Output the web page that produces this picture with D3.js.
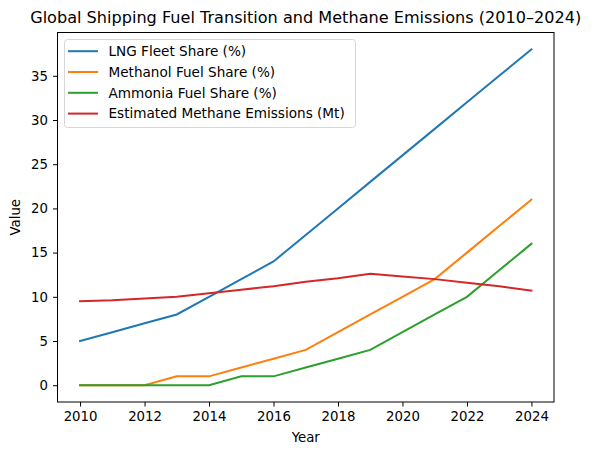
<!DOCTYPE html>
<html>
<head>
<meta charset="utf-8">
<script src="https://cdn.jsdelivr.net/npm/d3@7"></script>
<style>
    body { margin: 0; background: #fff; }
    text { font-family: "DejaVu Sans", sans-serif; }
</style>
</head>
<body>
<script>
const years = d3.range(2010, 2025);
const lngShare = [5, 6, 7, 8, 10, 12, 14, 17, 20, 23, 26, 29, 32, 35, 38];
const methanolShare = [0, 0, 0, 1, 1, 2, 3, 4, 6, 8, 10, 12, 15, 18, 21];
const ammoniaShare = [0, 0, 0, 0, 0, 1, 1, 2, 3, 4, 6, 8, 10, 13, 16];
const methaneEmissions = [9.5, 9.6, 9.8, 10.0, 10.4, 10.8, 11.2, 11.7, 12.1, 12.6, 12.3, 12.0, 11.6, 11.2, 10.7];
const seriesNames = ['LNG Fleet Share (%)', 'Methanol Fuel Share (%)', 'Ammonia Fuel Share (%)', 'Estimated Methane Emissions (Mt)'];
const seriesColors = ['#1f77b4', '#ff7f0e', '#2ca02c', '#d62728'];
const xTicks = [2010, 2012, 2014, 2016, 2018, 2020, 2022, 2024];
const yTicks = [0, 5, 10, 15, 20, 25, 30, 35];

const width = 599, height = 455;
const margin = {top: 32.5, right: 45, bottom: 53, left: 57.5};
const seriesValues = [lngShare, methanolShare, ammoniaShare, methaneEmissions];

const svg = d3.select('body').append('svg')
    .attr('width', width)
    .attr('height', height);

// matplotlib style 5% padding on both axes
const xPad = (2024 - 2010) * 0.05;
const allVals = seriesValues.flat();
const yMin = d3.min(allVals), yMax = d3.max(allVals);
const yPad = (yMax - yMin) * 0.05;

const x = d3.scaleLinear()
    .domain([2010 - xPad, 2024 + xPad])
    .range([margin.left, width - margin.right]);
const y = d3.scaleLinear()
    .domain([yMin - yPad, yMax + yPad])
    .range([height - margin.bottom, margin.top]);

const line = d3.line()
    .x((d, i) => x(years[i]))
    .y(d => y(d));

const plot = svg.append('g');
seriesValues.forEach((vals, k) => {
    plot.append('path')
        .datum(vals)
        .attr('d', line)
        .attr('fill', 'none')
        .attr('stroke', seriesColors[k])
        .attr('stroke-width', 2)
        .attr('stroke-linecap', 'square');
});

// axes
const xAxis = svg.append('g')
    .attr('transform', 'translate(0,' + (height - margin.bottom) + ')')
    .call(d3.axisBottom(x).tickValues(xTicks).tickFormat(d3.format('d')).tickSizeOuter(0).tickSize(4.5).tickPadding(5));
const yAxis = svg.append('g')
    .attr('transform', 'translate(' + margin.left + ',0)')
    .call(d3.axisLeft(y).tickValues(yTicks).tickSizeOuter(0).tickSize(4.5).tickPadding(5));
[xAxis, yAxis].forEach(a => {
    a.select('.domain').remove();
    a.selectAll('text').attr('font-size', 13.3).attr('fill', '#000').attr('font-family', '"DejaVu Sans", sans-serif');
    a.selectAll('line').attr('stroke', '#000').attr('stroke-width', 1);
});

// frame
svg.append('rect')
    .attr('x', margin.left)
    .attr('y', margin.top)
    .attr('width', width - margin.left - margin.right)
    .attr('height', height - margin.top - margin.bottom)
    .attr('fill', 'none')
    .attr('stroke', '#000')
    .attr('stroke-width', 1);

// labels
svg.append('text')
    .attr('x', (margin.left + width - margin.right) / 2)
    .attr('y', 23)
    .attr('text-anchor', 'middle')
    .attr('font-size', 16.1)
    .text('Global Shipping Fuel Transition and Methane Emissions (2010–2024)');
svg.append('text')
    .attr('x', (margin.left + width - margin.right) / 2)
    .attr('y', 442)
    .attr('text-anchor', 'middle')
    .attr('font-size', 13.3)
    .text('Year');
svg.append('text')
    .attr('transform', 'translate(20,' + ((margin.top + height - margin.bottom) / 2) + ') rotate(-90)')
    .attr('text-anchor', 'middle')
    .attr('font-size', 13.3)
    .text('Value');

// legend
const legend = svg.append('g').attr('transform', 'translate(64.5,39.5)');
legend.append('rect')
    .attr('width', 291)
    .attr('height', 88)
    .attr('rx', 3)
    .attr('fill', '#fff')
    .attr('fill-opacity', 0.8)
    .attr('stroke', '#d6d6d6')
    .attr('stroke-width', 1);
seriesNames.forEach((name, k) => {
    const ly = 11.7 + k * 20.8;
    legend.append('line')
        .attr('x1', 3.5).attr('x2', 33.5)
        .attr('y1', ly).attr('y2', ly)
        .attr('stroke', seriesColors[k])
        .attr('stroke-width', 2);
    legend.append('text')
        .attr('x', 44)
        .attr('y', ly + 4.8)
        .attr('font-size', 13.6)
        .text(name);
});
</script>
</body>
</html>
